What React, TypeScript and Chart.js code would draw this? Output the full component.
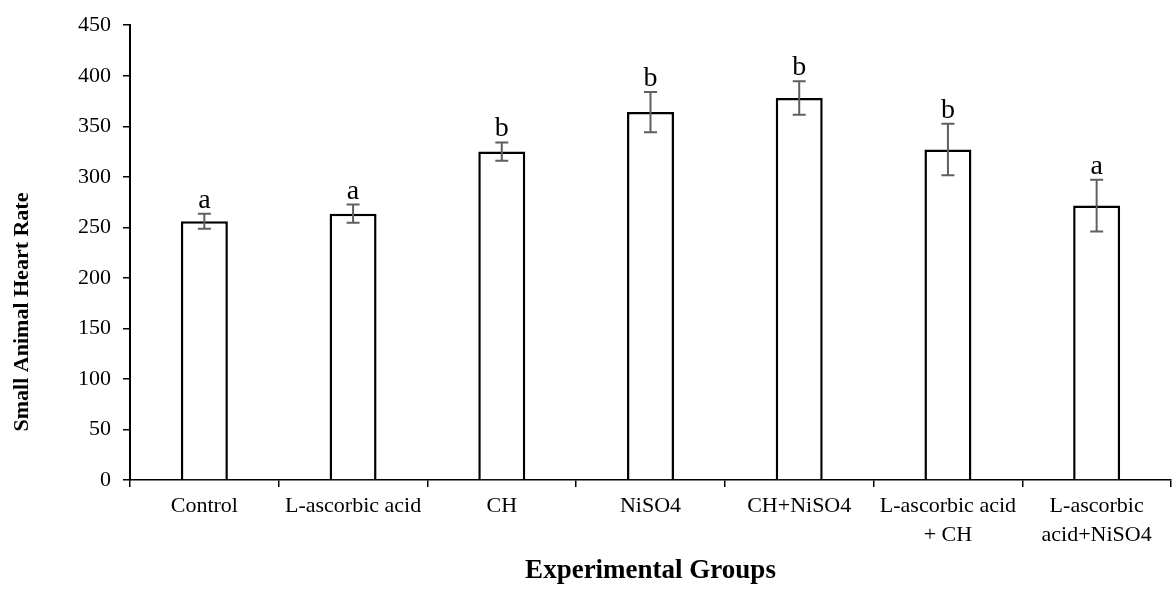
import React, { useEffect, useRef } from "react";
import { Chart, registerables } from "chart.js";

Chart.register(...registerables);

const categories: (string | string[])[] = [
  "Control",
  "L-ascorbic acid",
  "CH",
  "NiSO4",
  "CH+NiSO4",
  ["L-ascorbic acid", "+ CH"],
  ["L-ascorbic", "acid+NiSO4"],
];
const heartRate = [256, 263.5, 325, 364, 378, 327, 271.5];
const errors = [7.5, 9, 9, 20, 16.5, 25.5, 25.5];
const groupLetters = ["a", "a", "b", "b", "b", "b", "a"];
const yTickMax = 450;
const yTickStep = 50;
const xTitle = "Experimental Groups";
const yTitle = "Small Animal Heart Rate";

const FONT = "'Liberation Serif', 'Times New Roman', serif";

const errorBarPlugin = {
  id: "errorBars",
  afterDatasetsDraw(chart: any) {
    const { ctx, scales } = chart;
    const meta = chart.getDatasetMeta(0);
    const y = scales.y;
    ctx.save();
    meta.data.forEach((bar: any, i: number) => {
      const x = bar.x;
      const top = y.getPixelForValue(heartRate[i] + errors[i]);
      const bot = y.getPixelForValue(heartRate[i] - errors[i]);
      ctx.strokeStyle = "#5f5f5f";
      ctx.lineWidth = 2;
      ctx.beginPath();
      ctx.moveTo(x, top);
      ctx.lineTo(x, bot);
      ctx.moveTo(x - 6.5, top);
      ctx.lineTo(x + 6.5, top);
      ctx.moveTo(x - 6.5, bot);
      ctx.lineTo(x + 6.5, bot);
      ctx.stroke();
      ctx.fillStyle = "#000";
      ctx.font = `28px ${FONT}`;
      ctx.textAlign = "center";
      ctx.textBaseline = "alphabetic";
      ctx.fillText(groupLetters[i], x, top - 6);
    });
    ctx.restore();
  },
};

const yTitlePlugin = {
  id: "yTitleCustom",
  afterDraw(chart: any) {
    const { ctx } = chart;
    ctx.save();
    ctx.translate(22, 312);
    ctx.rotate(-Math.PI / 2);
    ctx.fillStyle = "#000";
    ctx.font = `bold 22px ${FONT}`;
    ctx.textAlign = "center";
    ctx.textBaseline = "middle";
    ctx.fillText(yTitle, 0, 0);
    ctx.restore();
  },
};

export default function App() {
  const ref = useRef<HTMLCanvasElement | null>(null);
  useEffect(() => {
    if (!ref.current) return;
    const chart = new Chart(ref.current, {
      type: "bar",
      data: {
        labels: categories as any,
        datasets: [
          {
            data: heartRate,
            backgroundColor: "#ffffff",
            borderColor: "#000000",
            borderWidth: 2.5,
            barPercentage: 0.316,
            categoryPercentage: 1,
          },
        ],
      },
      options: {
        animation: false,
        responsive: true,
        maintainAspectRatio: false,
        layout: { padding: { top: 21, right: 2, left: 0, bottom: 0 } },
        plugins: {
          legend: { display: false },
          tooltip: { enabled: false },
        },
        scales: {
          x: {
            offset: true,
            grid: {
              offset: true,
              drawOnChartArea: false,
              drawTicks: true,
              tickLength: 7,
              color: "#000",
              lineWidth: 1.5,
            },
            border: { color: "#000", width: 1.5 },
            ticks: {
              color: "#000",
              font: { family: FONT, size: 22, lineHeight: 1.3 },
              maxRotation: 0,
              minRotation: 0,
              autoSkip: false,
              padding: 5,
            },
            title: {
              display: true,
              text: xTitle,
              color: "#000",
              font: { family: FONT, size: 27, weight: "bold", lineHeight: 1.2 },
              padding: { top: 0, bottom: 3 },
            },
            afterFit(scale: any) {
              scale.height = 110;
            },
          },
          y: {
            min: 0,
            max: yTickMax,
            ticks: {
              stepSize: yTickStep,
              color: "#000",
              font: { family: FONT, size: 22 },
              padding: 12,
            },
            grid: {
              drawOnChartArea: false,
              drawTicks: true,
              tickLength: 7,
              color: "#000",
              lineWidth: 1.5,
            },
            border: { color: "#000", width: 2 },
            afterFit(scale: any) {
              scale.width = 130;
            },
          },
        },
      },
      plugins: [errorBarPlugin, yTitlePlugin],
    });
    return () => chart.destroy();
  }, []);
  return (
    <div style={{ position: "absolute", left: 0, top: 0, width: 1173, height: 590, background: "#fff" }}>
      <canvas ref={ref} />
    </div>
  );
}
